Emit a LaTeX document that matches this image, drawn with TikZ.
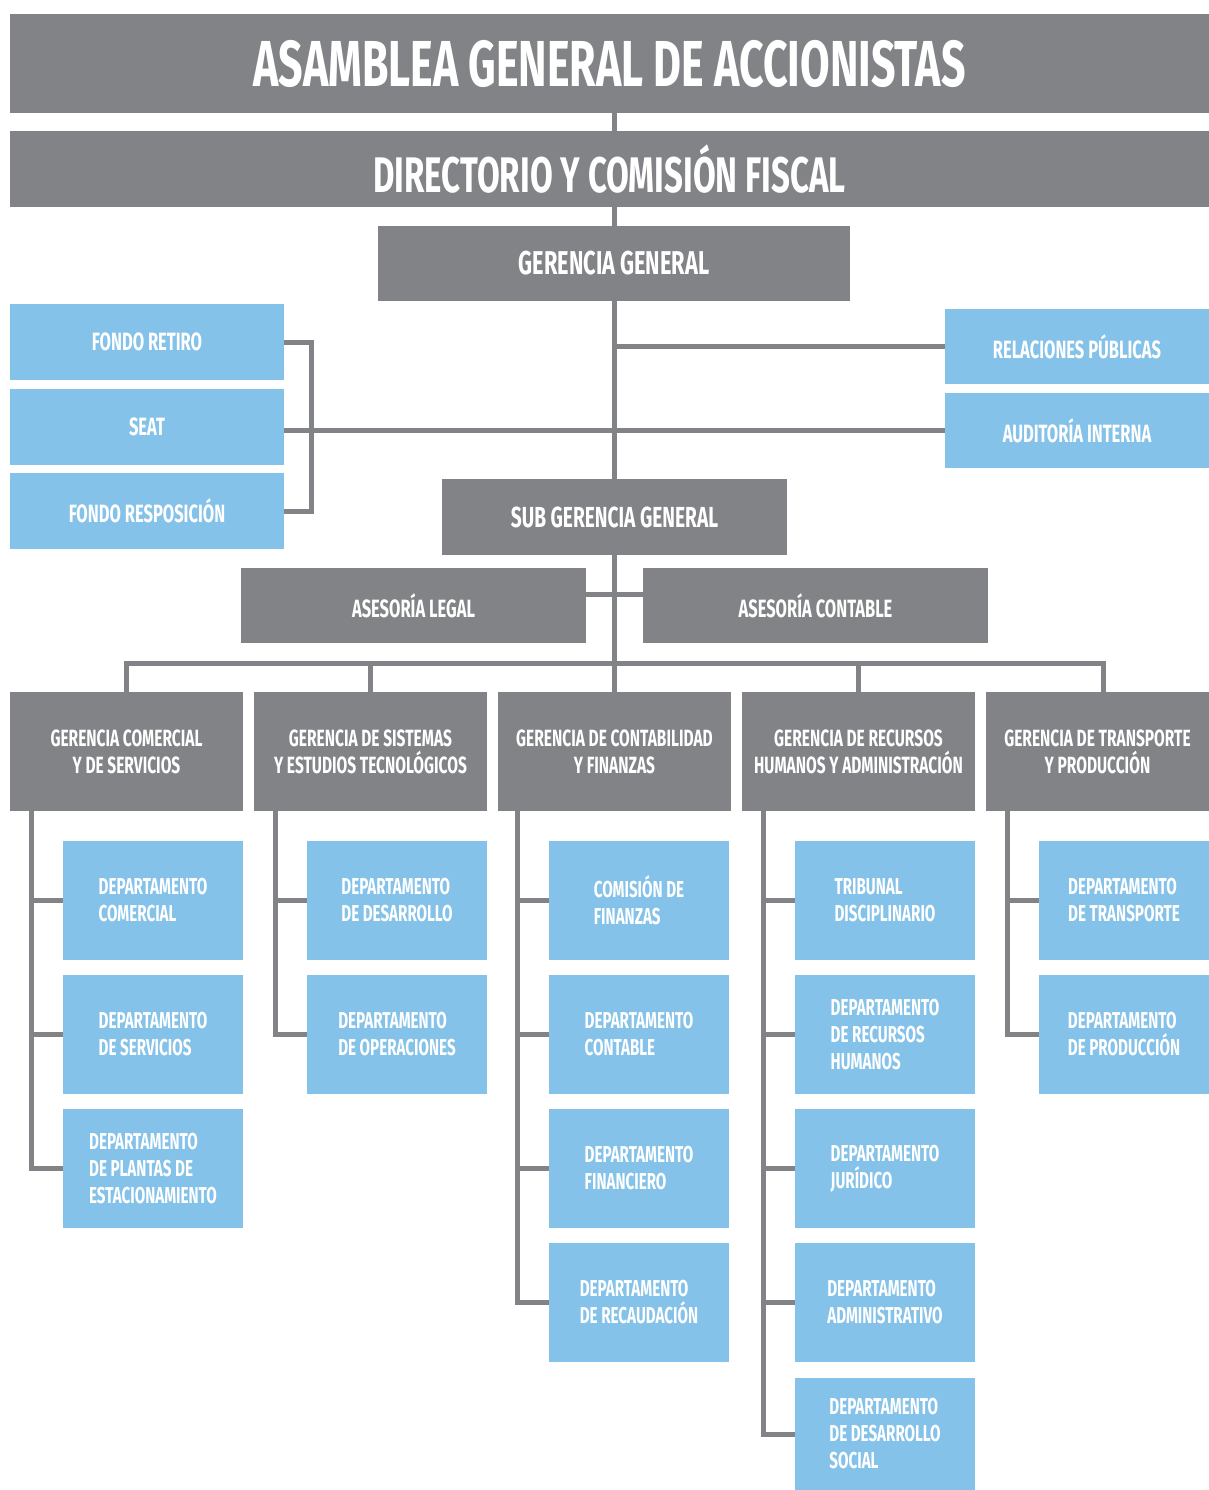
\documentclass[tikz,border=0pt]{standalone}
\usepackage{fontspec}
\setmainfont{Fira Sans}[FakeStretch=0.66]
\usetikzlibrary{calc}
\definecolor{grayc}{RGB}{130,131,135}
\definecolor{bluec}{RGB}{132,194,233}
\newcommand\orgbox[7]{%
  \node[#1, minimum width={(#5-#3)*1pt}, minimum height={(#6-#4)*1pt}]
    (#2) at ({(#3+#5)/2},{(#4+#6)/2}) {#7};}
\tikzset{
  base/.style={inner sep=0pt, outer sep=0pt, text=white, rectangle},
  gbox/.style={base, fill=grayc, align=center},
  bbox/.style={base, fill=bluec, align=center},
  dbox/.style={base, fill=bluec, align=left},
  fA/.style={font=\fontsize{65}{70}\selectfont\bfseries},
  fB/.style={font=\fontsize{50}{54}\selectfont\bfseries},
  fC/.style={font=\fontsize{33}{36}\selectfont\bfseries},
  fD/.style={font=\fontsize{29}{32}\selectfont\bfseries},
  fE/.style={font=\fontsize{25}{27}\selectfont\bfseries},
  fF/.style={font=\fontsize{23}{27}\selectfont\bfseries},
  fG/.style={font=\fontsize{23.5}{27}\selectfont\bfseries},
  conn/.style={draw=grayc, line width=5pt},
}
\begin{document}
\begin{tikzpicture}[x=1pt,y=-1pt]
\useasboundingbox (0,0) rectangle (1209,1490);
\fill[white] (0,0) rectangle (1209,1490);

\coordinate (busA) at (614,594);
\coordinate (bus) at (614,663);
\coordinate (g5stub) at (1103,692);
\coordinate (c1) at (31,810);
\coordinate (c2) at (275,810);
\coordinate (c3) at (517,810);
\coordinate (c4) at (763,810);
\coordinate (c5) at (1007,810);

% boxes
\orgbox{gbox,fA}{asam}{10}{14}{1209}{113}{ASAMBLEA GENERAL DE ACCIONISTAS}
\orgbox{gbox,fB}{dir}{10}{131}{1209}{207}{DIRECTORIO Y COMISIÓN FISCAL}
\orgbox{gbox,fC}{gg}{378}{226}{850}{301}{GERENCIA GENERAL}

\orgbox{bbox,fE}{fr}{10}{304}{284}{380}{FONDO RETIRO}
\orgbox{bbox,fE}{seat}{10}{389}{284}{465}{SEAT}
\orgbox{bbox,fE}{fres}{10}{473}{284}{549}{FONDO RESPOSICIÓN}

\orgbox{bbox,fE}{rp}{945}{309}{1209}{384}{RELACIONES PÚBLICAS}
\orgbox{bbox,fE}{ai}{945}{393}{1209}{468}{AUDITORÍA INTERNA}

\orgbox{gbox,fD}{sg}{442}{479}{787}{555}{SUB GERENCIA GENERAL}
\orgbox{gbox,fE}{al}{241}{568}{586}{643}{ASESORÍA LEGAL}
\orgbox{gbox,fE}{ac}{643}{568}{988}{643}{ASESORÍA CONTABLE}

\orgbox{gbox,fG}{g1}{10}{692}{243}{811}{GERENCIA COMERCIAL\\Y DE SERVICIOS}
\orgbox{gbox,fG}{g2}{254}{692}{487}{811}{GERENCIA DE SISTEMAS\\Y ESTUDIOS TECNOLÓGICOS}
\orgbox{gbox,fG}{g3}{498}{692}{731}{811}{GERENCIA DE CONTABILIDAD\\Y FINANZAS}
\orgbox{gbox,fG}{g4}{742}{692}{975}{811}{GERENCIA DE RECURSOS\\HUMANOS Y ADMINISTRACIÓN}
\orgbox{gbox,fG}{g5}{986}{692}{1209}{811}{GERENCIA DE TRANSPORTE\\Y PRODUCCIÓN}

% column 1
\orgbox{dbox,fF}{d11}{63}{841}{243}{960}{DEPARTAMENTO\\COMERCIAL}
\orgbox{dbox,fF}{d12}{63}{975}{243}{1094}{DEPARTAMENTO\\DE SERVICIOS}
\orgbox{dbox,fF}{d13}{63}{1109}{243}{1228}{DEPARTAMENTO\\DE PLANTAS DE\\ESTACIONAMIENTO}
% column 2
\orgbox{dbox,fF}{d21}{307}{841}{487}{960}{DEPARTAMENTO\\DE DESARROLLO}
\orgbox{dbox,fF}{d22}{307}{975}{487}{1094}{DEPARTAMENTO\\DE OPERACIONES}
% column 3
\orgbox{dbox,fF}{d31}{549}{841}{729}{960}{COMISIÓN DE\\FINANZAS}
\orgbox{dbox,fF}{d32}{549}{975}{729}{1094}{DEPARTAMENTO\\CONTABLE}
\orgbox{dbox,fF}{d33}{549}{1109}{729}{1228}{DEPARTAMENTO\\FINANCIERO}
\orgbox{dbox,fF}{d34}{549}{1243}{729}{1362}{DEPARTAMENTO\\DE RECAUDACIÓN}
% column 4
\orgbox{dbox,fF}{d41}{795}{841}{975}{960}{TRIBUNAL\\DISCIPLINARIO}
\orgbox{dbox,fF}{d42}{795}{975}{975}{1094}{DEPARTAMENTO\\DE RECURSOS\\HUMANOS}
\orgbox{dbox,fF}{d43}{795}{1109}{975}{1228}{DEPARTAMENTO\\JURÍDICO}
\orgbox{dbox,fF}{d44}{795}{1243}{975}{1362}{DEPARTAMENTO\\ADMINISTRATIVO}
\orgbox{dbox,fF}{d45}{795}{1378}{975}{1490}{DEPARTAMENTO\\DE DESARROLLO\\SOCIAL}
% column 5
\orgbox{dbox,fF}{d51}{1039}{841}{1209}{960}{DEPARTAMENTO\\DE TRANSPORTE}
\orgbox{dbox,fF}{d52}{1039}{975}{1209}{1094}{DEPARTAMENTO\\DE PRODUCCIÓN}

% connectors
\draw[conn] (asam.south -| gg.north) -- (dir.north -| gg.north);
\draw[conn] (dir.south -| gg.north) -- (gg.north);
\draw[conn] (gg.south) -- (gg.south |- sg.north);
\draw[conn] (gg.south |- rp.west) -- (rp.west);
\draw[conn] (seat.east |- ai.west) -- (ai.west);
\draw[conn] (fr.east) -- ++(27,0) |- (fres.east);
\draw[conn] (gg.south |- sg.south) -- (gg.south |- g3.north);
\draw[conn] (al.east |- busA) -- (ac.west |- busA);
\draw[conn] (g1.north) -- (g1.north |- bus) -- (g5stub |- bus) -- (g5stub);
\draw[conn] (g2.north) -- (g2.north |- bus);
\draw[conn] (g4.north) -- (g4.north |- bus);

\draw[conn] (c1) |- (d13.west);
\draw[conn] (c1 |- d11.west) -- (d11.west);
\draw[conn] (c1 |- d12.west) -- (d12.west);

\draw[conn] (c2) |- (d22.west);
\draw[conn] (c2 |- d21.west) -- (d21.west);

\draw[conn] (c3) |- (d34.west);
\draw[conn] (c3 |- d31.west) -- (d31.west);
\draw[conn] (c3 |- d32.west) -- (d32.west);
\draw[conn] (c3 |- d33.west) -- (d33.west);

\draw[conn] (c4) |- (d45.west);
\draw[conn] (c4 |- d41.west) -- (d41.west);
\draw[conn] (c4 |- d42.west) -- (d42.west);
\draw[conn] (c4 |- d43.west) -- (d43.west);
\draw[conn] (c4 |- d44.west) -- (d44.west);

\draw[conn] (c5) |- (d52.west);
\draw[conn] (c5 |- d51.west) -- (d51.west);
\end{tikzpicture}
\end{document}
